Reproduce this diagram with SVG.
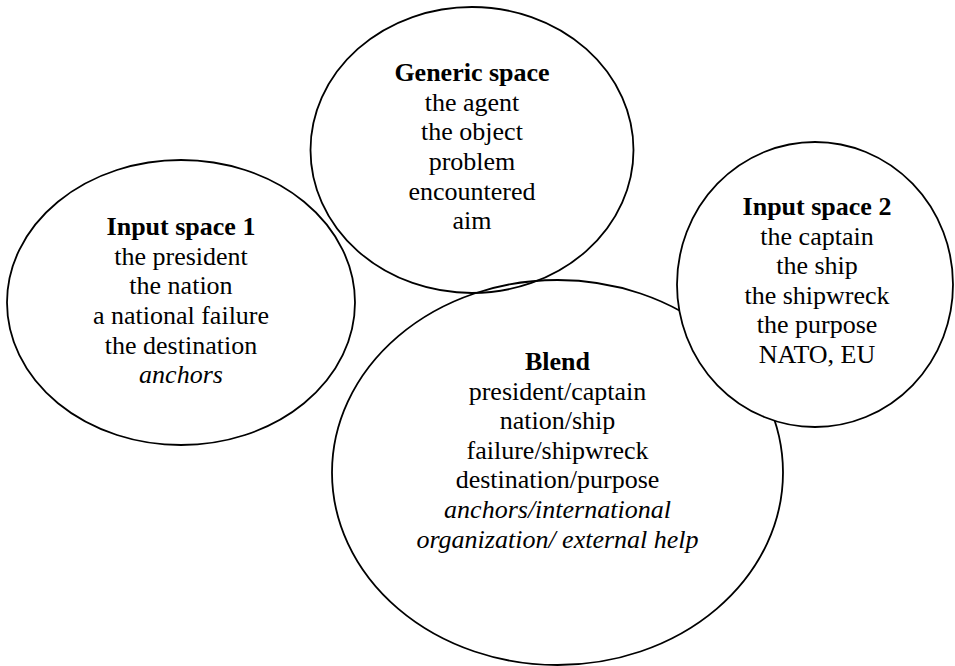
<svg xmlns="http://www.w3.org/2000/svg" width="955" height="666" viewBox="0 0 955 666">
<style>
.sp{fill:none;stroke:#000;stroke-width:1.8}
.sp2{fill:#fff;stroke:#000;stroke-width:1.8}
text{font-family:"Liberation Serif","Times New Roman",serif;font-size:26px;fill:#000;text-anchor:middle}
.b{font-weight:bold}
.i{font-style:italic}
</style>
<rect width="955" height="666" fill="#fff"/>
<g id="input1">
<ellipse class="sp" cx="181" cy="302.5" rx="174" ry="142.5"/>
<text x="181" y="235" class="b">Input space 1</text>
<text x="181" y="265">the president</text>
<text x="181" y="294">the nation</text>
<text x="181" y="324">a national failure</text>
<text x="181" y="354">the destination</text>
<text x="181" y="383" class="i">anchors</text>
</g>
<g id="generic">
<ellipse class="sp" cx="472" cy="150" rx="161.5" ry="143"/>
<text x="472" y="81" class="b">Generic space</text>
<text x="472" y="111">the agent</text>
<text x="472" y="140">the object</text>
<text x="472" y="170">problem</text>
<text x="472" y="200">encountered</text>
<text x="472" y="229">aim</text>
</g>
<g id="blend">
<ellipse class="sp" cx="557.5" cy="472.5" rx="225.5" ry="192.5"/>
<text x="557.5" y="370" class="b">Blend</text>
<text x="557.5" y="400">president/captain</text>
<text x="557.5" y="429">nation/ship</text>
<text x="557.5" y="459">failure/shipwreck</text>
<text x="557.5" y="488">destination/purpose</text>
<text x="557.5" y="518" class="i">anchors/international</text>
<text x="557.5" y="548" class="i">organization/ external help</text>
</g>
<g id="input2">
<ellipse class="sp2" cx="815" cy="284.5" rx="138" ry="142.5"/>
<text x="817" y="215" class="b">Input space 2</text>
<text x="817" y="245">the captain</text>
<text x="817" y="274">the ship</text>
<text x="817" y="304">the shipwreck</text>
<text x="817" y="333">the purpose</text>
<text x="817" y="363">NATO, EU</text>
</g>
<g id="connectors"></g>
</svg>
